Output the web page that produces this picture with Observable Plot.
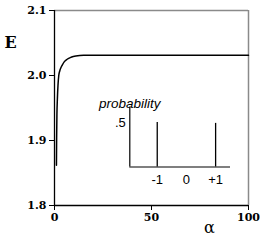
<!DOCTYPE html>
<html>
<head>
<meta charset="utf-8">
<script src="https://cdn.jsdelivr.net/npm/d3@7"></script>
<script src="https://cdn.jsdelivr.net/npm/@observablehq/plot@0.6"></script>
<style>
  html, body { margin: 0; padding: 0; background: #fff; }
  #wrap { position: relative; width: 267px; height: 244px; overflow: hidden; }
  #inset { position: absolute; left: 90px; top: 85px; }
</style>
</head>
<body>
<div id="wrap"><div id="main"></div><div id="inset"></div></div>
<script>
// Main curve: energy E versus alpha
const alpha = [1, 1.1, 1.25, 1.5, 1.8, 2.2, 2.7, 3.3, 4, 5, 6.5, 8.5, 11, 15, 25, 50, 100];
const energy = [1.862, 1.905, 1.94, 1.965, 1.985, 2.0, 2.007, 2.012, 2.016, 2.021, 2.025, 2.028, 2.030, 2.031, 2.031, 2.031, 2.031];
const xTicks = [0, 50, 100];
const yTicks = [1.8, 1.9, 2.0, 2.1];
const xDomain = [0, 100];
const yDomain = [1.8, 2.1];

// Inset: probability distribution
const spinValues = [-1, 1];
const probabilities = [0.5, 0.49];
const insetXTicks = [-1, 0, 1];
const insetXLabels = ["-1", "0", "+1"];
const insetYTicks = [0.5];
const insetYLabels = [".5"];
const insetXDomain = [-1.94, 1.51];
const insetYDomain = [0, 0.674];

const curve = alpha.map((a, i) => ({a, e: energy[i]}));
const serif = "DejaVu Serif";

const main = Plot.plot({
  width: 267, height: 244,
  marginLeft: 54, marginRight: 19, marginTop: 10, marginBottom: 39,
  style: {background: "#fff", fontFamily: serif, color: "#000", overflow: "visible"},
  x: {domain: xDomain},
  y: {domain: yDomain},
  marks: [
    Plot.ruleY([yDomain[1]], {stroke: "#8a8a8a", strokeWidth: 1.5}),
    Plot.ruleX([xDomain[1]], {stroke: "#8a8a8a", strokeWidth: 1.5}),
    Plot.ruleX([xDomain[0]], {stroke: "#000", strokeWidth: 1.3}),
    Plot.ruleY([yDomain[0]], {stroke: "#000", strokeWidth: 1.3}),
    Plot.axisY({ticks: yTicks, tickFormat: d3.format(".1f"), tickSize: 5, tickPadding: 3, label: null,
      fontWeight: "bold", fontSize: 11, fontFamily: serif, fill: "#000"}),
    Plot.axisX({ticks: xTicks, tickFormat: d3.format("d"), tickSize: 5, tickPadding: 3, label: null,
      fontWeight: "bold", fontSize: 11, fontFamily: serif, fill: "#000"}),
    Plot.line(curve, {x: "a", y: "e", stroke: "#000", strokeWidth: 1.5, curve: "monotone-x"}),
    Plot.text(["E"], {frameAnchor: "top-left", dx: -44, dy: 26, fontWeight: "bold", fontSize: 16, fontFamily: serif, textAnchor: "middle"}),
    Plot.text(["\u03b1"], {frameAnchor: "bottom-right", dx: -39, dy: 27, fontSize: 16, fontFamily: serif, textAnchor: "middle"})
  ]
});
document.getElementById("main").append(main);

const bars = spinValues.map((s, i) => ({s, p: probabilities[i]}));
const sans = "Liberation Sans";
const inset = Plot.plot({
  width: 150, height: 105,
  marginLeft: 39.3, marginRight: 10, marginTop: 21.5, marginBottom: 23.5,
  style: {background: "transparent", fontFamily: sans, color: "#000", overflow: "visible"},
  x: {domain: insetXDomain},
  y: {domain: insetYDomain},
  marks: [
    Plot.ruleX([insetXDomain[0]], {stroke: "#000", strokeWidth: 1.2}),
    Plot.ruleY([0], {stroke: "#000", strokeWidth: 1.2}),
    Plot.ruleX(bars, {x: "s", y1: 0, y2: "p", stroke: "#000", strokeWidth: 1.3}),
    Plot.axisX({ticks: insetXTicks, tickFormat: (d, i) => insetXLabels[i], tickSize: 0, tickPadding: 8, label: null,
      fontSize: 13, fontFamily: sans, fill: "#000"}),
    Plot.axisY({ticks: insetYTicks, tickFormat: (d, i) => insetYLabels[i], tickSize: 0, tickPadding: 4, label: null,
      fontSize: 13, fontFamily: sans, fill: "#000"}),
    Plot.text(["probability"], {frameAnchor: "top-left", dy: -9, fontSize: 13.5, fontStyle: "italic", fontFamily: sans, textAnchor: "middle"})
  ]
});
document.getElementById("inset").append(inset);
</script>
</body>
</html>
